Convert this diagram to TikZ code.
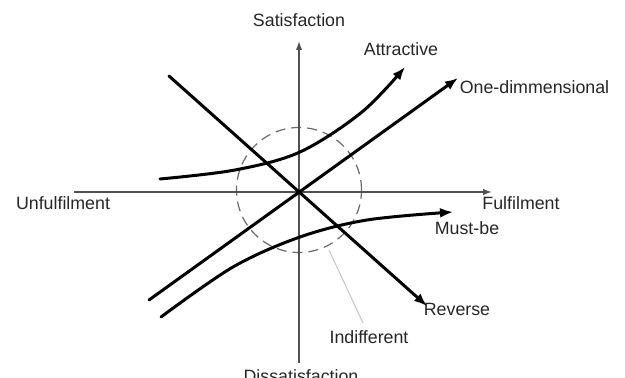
\documentclass[tikz,border=0pt]{standalone}
\usepackage{fontspec}
\setmainfont{Liberation Sans}
\usetikzlibrary{arrows.meta}
\definecolor{axisgray}{HTML}{505050}
\definecolor{dashgray}{HTML}{6A6A6A}
\definecolor{leadgray}{HTML}{C4C4C4}
\definecolor{txt}{HTML}{262626}
\begin{document}
\begin{tikzpicture}[x=0.5pt,y=-0.5pt,
  lbl/.style={inner sep=0pt, text=txt, font=\fontsize{8.9}{10}\selectfont},
  axisline/.style={draw=axisgray, line width=0.7pt},
  axisarrow/.style={-{Latex[length=4.5pt,width=3.2pt]}},
  curve/.style={draw=black, line width=1.5pt, line cap=round},
  curvearrow/.style={-{Latex[length=6.5pt,width=5pt]}},
  indcircle/.style={circle, draw=dashgray, line width=0.6pt, dash pattern=on 5pt off 3pt, minimum size=62.5pt, inner sep=0pt},
  leader/.style={draw=leadgray, line width=0.5pt}]
\useasboundingbox (0,0) rectangle (625,378);
% coordinates
\coordinate (O) at (299,192);
\coordinate (xL) at (74,192);
\coordinate (xR) at (492,192);
\coordinate (yT) at (299,41);
\coordinate (yB) at (299,363);
\coordinate (rS) at (169,76);
\coordinate (rE) at (427,306);
\coordinate (oS) at (149,300);
\coordinate (oE) at (458,78);
\coordinate (a1) at (160,179);
\coordinate (a2) at (235,170);
\coordinate (a3) at (300,152);
\coordinate (a4) at (362,112);
\coordinate (a5) at (405,67);
\coordinate (m1) at (161,317);
\coordinate (m2) at (233,267);
\coordinate (m3) at (300,237);
\coordinate (m4) at (367,220);
\coordinate (m5) at (453,212);
\coordinate (lS) at (329,250);
\coordinate (lE) at (363,323);
% indifferent zone
\node[indcircle] (ind) at (299,190) {};
% axes
\draw[axisline, axisarrow] (xL) -- (xR);
\draw[axisline, axisarrow] (yB) -- (yT);
% labels
\node[lbl] (sat) at (299,20) {Satisfaction};
\node[lbl] (dis) at (301,376) {Dissatisfaction};
\node[lbl] (unf) at (63,203) {Unfulfilment};
\node[lbl] (ful) at (521,203) {Fulfilment};
\node[lbl] (att) at (401,49) {Attractive};
\node[lbl] (one) at (534.5,87) {One-dimmensional};
\node[lbl] (must) at (467,228) {Must-be};
\node[lbl] (rev) at (457,309) {Reverse};
\node[lbl] (indl) at (369,337) {Indifferent};
% curves
\draw[curve, curvearrow] (rS) -- (rE);
\draw[curve, curvearrow] (oS) -- (oE);
\draw[curve, curvearrow] plot[smooth, tension=0.55] coordinates {(a1) (a2) (a3) (a4) (a5)};
\draw[curve, curvearrow] plot[smooth, tension=0.55] coordinates {(m1) (m2) (m3) (m4) (m5)};
% leader
\draw[leader] (lS) -- (lE);
\end{tikzpicture}
\end{document}
